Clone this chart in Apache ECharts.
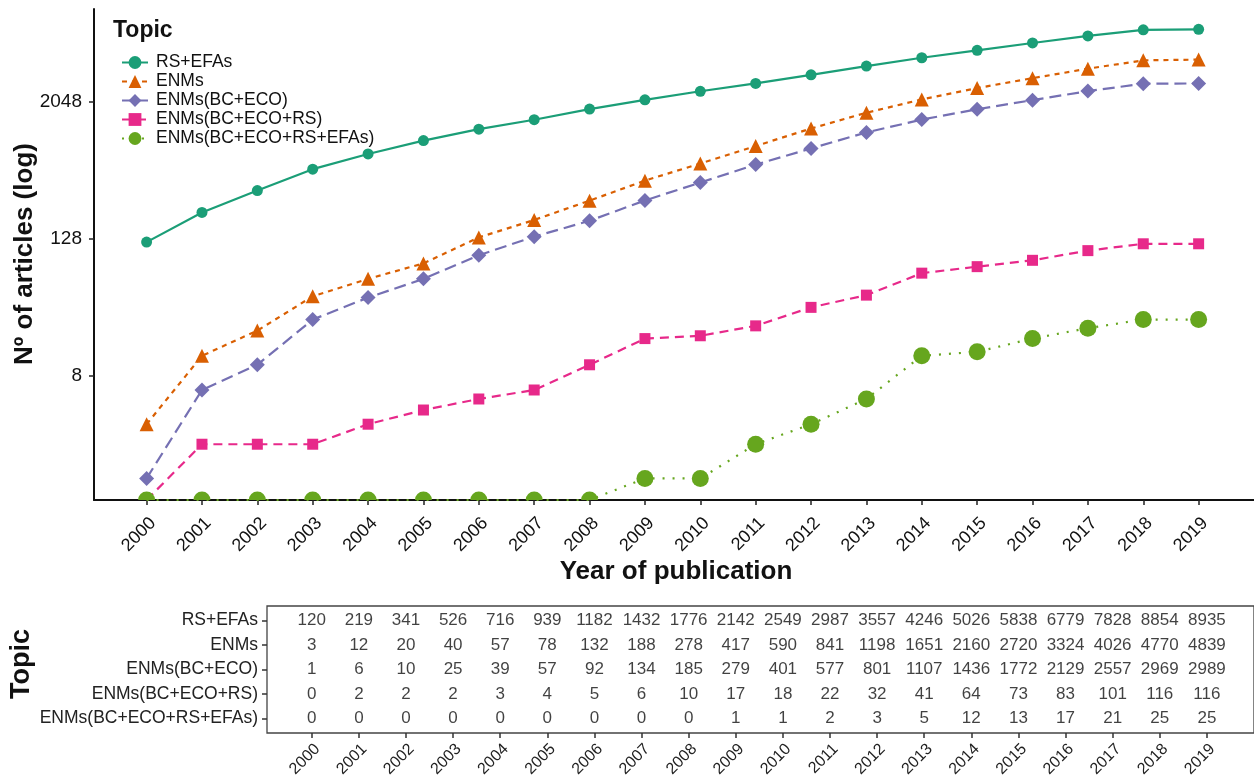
<!DOCTYPE html>
<html>
<head>
<meta charset="utf-8">
<script src="https://cdn.jsdelivr.net/npm/echarts@6/dist/echarts.min.js"></script>
<style>
  html, body { margin: 0; padding: 0; background: #fff; }
  #chart { width: 1254px; height: 783px; }
</style>
</head>
<body>
<div id="chart"></div>
<script>
// Publication counts per topic, 2000-2019
const years = [2000, 2001, 2002, 2003, 2004, 2005, 2006, 2007, 2008, 2009,
               2010, 2011, 2012, 2013, 2014, 2015, 2016, 2017, 2018, 2019];
const topics = ['RS+EFAs', 'ENMs', 'ENMs(BC+ECO)', 'ENMs(BC+ECO+RS)', 'ENMs(BC+ECO+RS+EFAs)'];
const rsEfas      = [120, 219, 341, 526, 716, 939, 1182, 1432, 1776, 2142, 2549, 2987, 3557, 4246, 5026, 5838, 6779, 7828, 8854, 8935];
const enms        = [3, 12, 20, 40, 57, 78, 132, 188, 278, 417, 590, 841, 1198, 1651, 2160, 2720, 3324, 4026, 4770, 4839];
const enmsBcEco   = [1, 6, 10, 25, 39, 57, 92, 134, 185, 279, 401, 577, 801, 1107, 1436, 1772, 2129, 2557, 2969, 2989];
const enmsBcEcoRs = [0, 2, 2, 2, 3, 4, 5, 6, 10, 17, 18, 22, 32, 41, 64, 73, 83, 101, 116, 116];
const enmsAll     = [0, 0, 0, 0, 0, 0, 0, 0, 0, 1, 1, 2, 3, 5, 12, 13, 17, 21, 25, 25];
const yTickExponents = [3, 7, 11];   // 8, 128, 2048 on a log2 scale

const seriesValues = [rsEfas, enms, enmsBcEco, enmsBcEcoRs, enmsAll];
const colors = ['#1B9E77', '#D95F02', '#7570B3', '#E7298A', '#66A61E'];
const symbols = ['circle', 'triangle', 'diamond', 'rect', 'circle'];
const symbolSizes = [11, 14, 15, 11, 17];
const dashes = ['solid', [5, 5], [12, 6], [9, 6], [2, 8]];

// upper halves of the markers, used where a zero count sits on the panel edge
const HALF_CIRCLE = 'path://M0 10 A10 10 0 0 1 20 10 Z';
const HALF_RECT = 'path://M0 0 L20 0 L20 10 L0 10 Z';

const FONT = "'Liberation Sans', Arial, sans-serif";
const Y_MIN = -0.63, Y_MAX = 13.72;
const X_MIN = 1999.05, X_MAX = 2020;

// log2 transform; zero counts sit on the lower edge of the panel
const toLog = v => (v > 0 ? Math.log2(v) : Y_MIN);

const lineSeries = topics.map((name, i) => ({
  name,
  type: 'line',
  xAxisIndex: 0,
  yAxisIndex: 0,
  data: years.map((y, k) => {
    const v = seriesValues[i][k];
    const item = { value: [y, toLog(v)] };
    if (v <= 0) {
      const s = symbolSizes[i];
      item.symbol = symbols[i] === 'rect' ? HALF_RECT : HALF_CIRCLE;
      item.symbolSize = [s, s / 2];
      item.symbolOffset = [0, -s / 4];
    }
    return item;
  }),
  symbol: symbols[i],
  symbolSize: symbolSizes[i],
  showAllSymbol: true,
  clip: true,
  itemStyle: { color: colors[i], opacity: 1 },
  lineStyle: { color: colors[i], width: 2.2, type: dashes[i] },
  emphasis: { disabled: true },
  z: 2 + i
}));

// numbers table under the chart
const tableData = [];
topics.forEach((t, i) => {
  years.forEach((y, k) => tableData.push([y, 4 - i, seriesValues[i][k]]));
});

const option = {
  animation: false,
  backgroundColor: '#fff',
  textStyle: { fontFamily: FONT },
  grid: [
    { left: 94, top: 9, width: 1166.5, height: 491 },
    { left: 267, top: 606, width: 995, height: 127, show: true,
      borderColor: '#444', borderWidth: 1.3, backgroundColor: 'transparent' }
  ],
  xAxis: [
    {
      type: 'value', gridIndex: 0, min: X_MIN, max: X_MAX, z: 1,
      splitLine: { show: false },
      axisLine: { show: true, onZero: false, lineStyle: { color: '#111', width: 2 } },
      axisTick: { show: true, length: 5, customValues: years, lineStyle: { color: '#222', width: 1.5 } },
      axisLabel: { customValues: years, rotate: 45, fontSize: 18, color: '#111', margin: 14,
                   align: 'right', verticalAlign: 'top',
                   fontFamily: FONT, formatter: v => String(Math.round(v)) }
    },
    {
      type: 'value', gridIndex: 1, min: X_MIN, max: X_MAX,
      splitLine: { show: false },
      axisLine: { show: false, onZero: false },
      axisTick: { show: true, length: 5, customValues: years, lineStyle: { color: '#333', width: 1.5 } },
      axisLabel: { customValues: years, rotate: 45, fontSize: 16, color: '#222', margin: 8,
                   align: 'right', verticalAlign: 'top',
                   fontFamily: FONT, formatter: v => String(Math.round(v)) }
    }
  ],
  yAxis: [
    {
      type: 'value', gridIndex: 0, min: Y_MIN, max: Y_MAX, z: 1,
      splitLine: { show: false },
      axisLine: { show: true, onZero: false, lineStyle: { color: '#111', width: 2 } },
      axisTick: { show: true, length: 5, customValues: yTickExponents, lineStyle: { color: '#222', width: 1.5 } },
      axisLabel: { customValues: yTickExponents, fontSize: 19, color: '#111', margin: 12,
                   fontFamily: FONT, formatter: v => String(Math.pow(2, Math.round(v))) }
    },
    {
      type: 'value', gridIndex: 1, min: -0.6, max: 4.6,
      splitLine: { show: false },
      axisLine: { show: false, onZero: false },
      axisTick: { show: true, length: 5, customValues: [0, 1, 2, 3, 4], lineStyle: { color: '#333', width: 1.5 } },
      axisLabel: { customValues: [0, 1, 2, 3, 4], fontSize: 17.5, color: '#222', margin: 9,
                   fontFamily: FONT, formatter: v => topics[4 - Math.round(v)] }
    }
  ],
  legend: {
    data: topics,
    orient: 'vertical',
    left: 116,
    top: 48,
    itemWidth: 26,
    itemHeight: 16,
    itemGap: 0,
    textStyle: { fontSize: 17.5, lineHeight: 19, color: '#111', fontFamily: FONT, padding: [0, 0, 0, 3] },
    selectedMode: false
  },
  graphic: {
    elements: [
      { type: 'text', x: 113, y: 31,
        style: { text: 'Topic', font: "bold 23px " + FONT, fill: '#111',
                 textAlign: 'left', textVerticalAlign: 'middle' } },
      { type: 'text', x: 25, y: 254, rotation: Math.PI / 2,
        style: { text: 'Nº of articles (log)', font: "bold 26px " + FONT, fill: '#111',
                 textAlign: 'center', textVerticalAlign: 'middle' } },
      { type: 'text', x: 676, y: 572,
        style: { text: 'Year of publication', font: "bold 26px " + FONT, fill: '#111',
                 textAlign: 'center', textVerticalAlign: 'middle' } },
      { type: 'text', x: 22, y: 664, rotation: Math.PI / 2,
        style: { text: 'Topic', font: "bold 27px " + FONT, fill: '#111',
                 textAlign: 'center', textVerticalAlign: 'middle' } }
    ]
  },
  series: lineSeries.concat([
    {
      type: 'scatter',
      xAxisIndex: 1,
      yAxisIndex: 1,
      data: tableData,
      symbolSize: 1,
      itemStyle: { color: 'transparent' },
      emphasis: { disabled: true },
      label: {
        show: true, position: 'inside', fontSize: 17, color: '#111', fontFamily: FONT,
        formatter: p => String(p.value[2])
      }
    }
  ])
};

const chart = echarts.init(document.getElementById('chart'), null, { renderer: 'canvas' });
chart.setOption(option);
</script>
</body>
</html>
